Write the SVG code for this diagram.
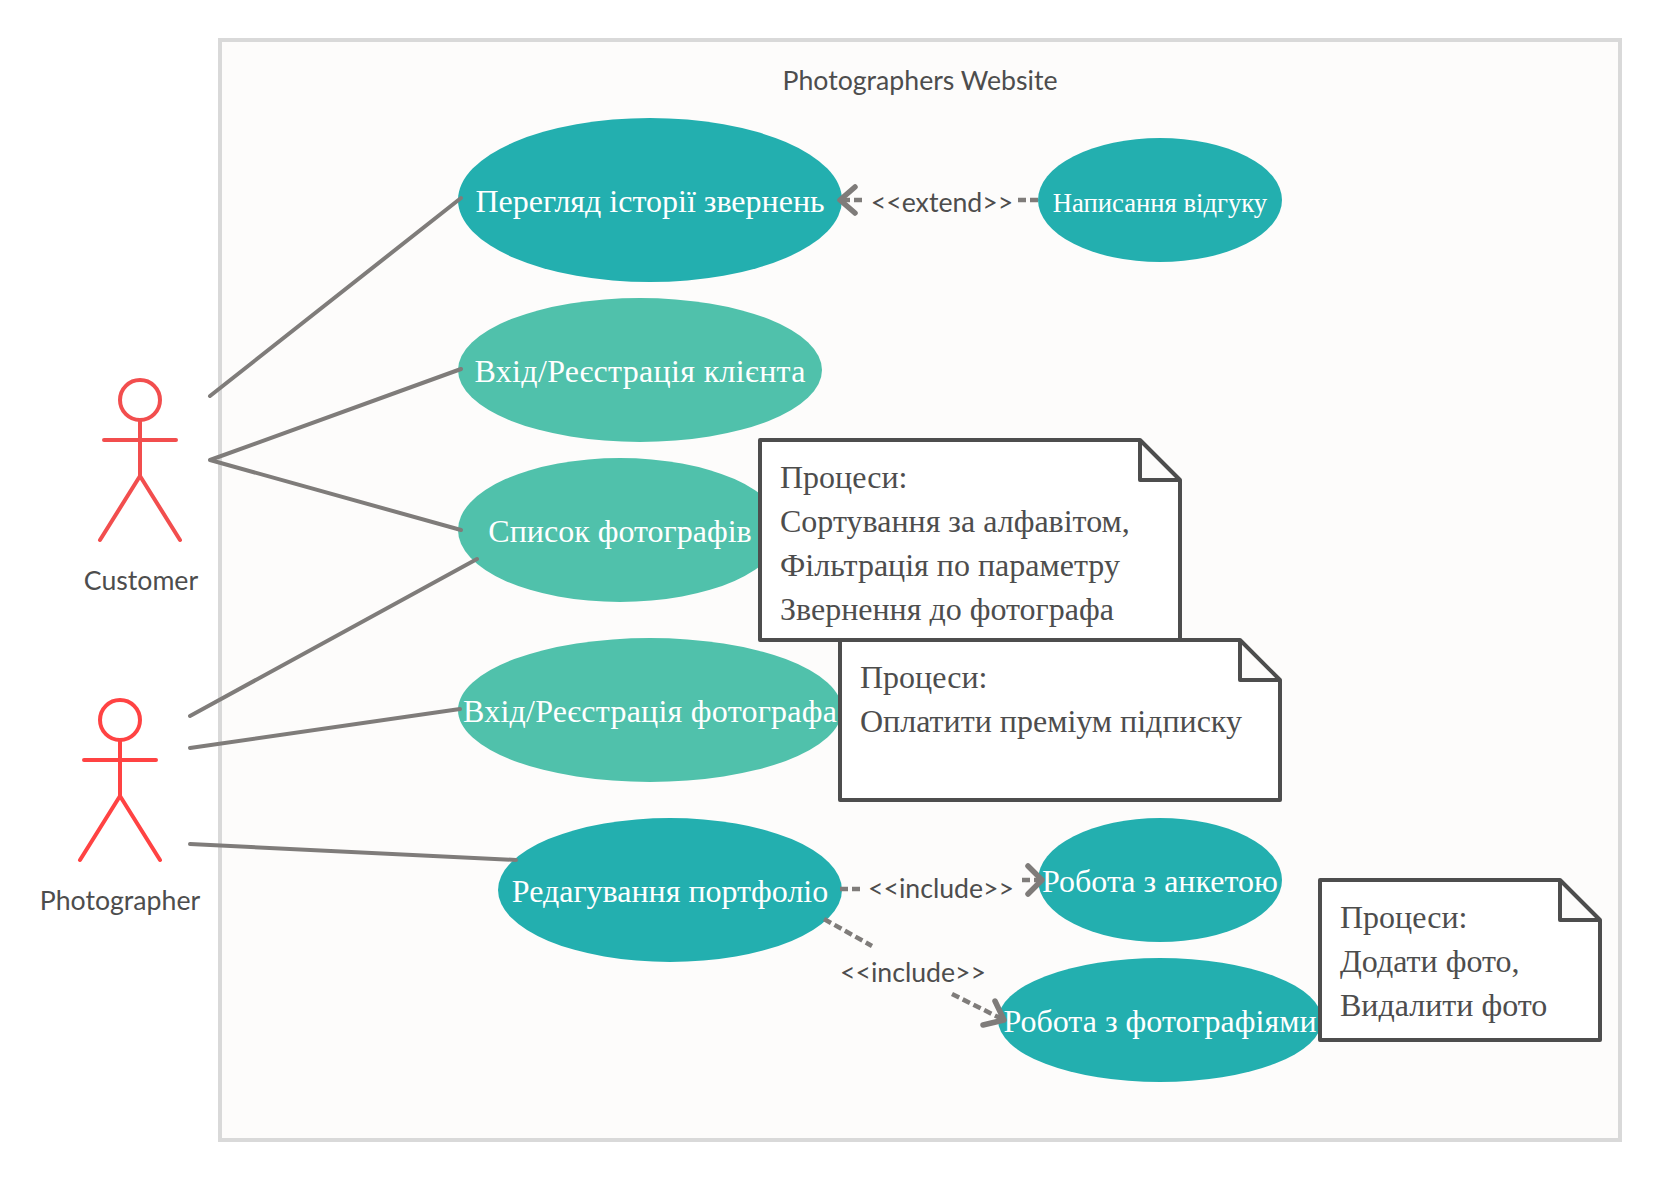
<svg xmlns="http://www.w3.org/2000/svg" width="1660" height="1180" viewBox="0 0 1660 1180">
<style>
text{font-family:"Liberation Serif","Times New Roman",serif}
.uc{fill:#fff;font-size:32px;text-anchor:middle}
.dark{fill:#23afaf}
.light{fill:#50c1ab}
.note path{fill:#fff;stroke:#4d4d4d;stroke-width:4;stroke-linejoin:round;stroke-linecap:round}
.note text{fill:#4d4d4d;font-size:32px}
.lb{font-family:Lato,"Open Sans",sans-serif;fill:#4d4d4d;font-size:26.67px;text-anchor:middle}
.actor *{fill:none;stroke-width:4;stroke-linecap:round;stroke-linejoin:round}
.assoc{stroke:#7f7c7a;stroke-width:4;fill:none;stroke-linecap:round}
.dash{stroke:#7f7c7a;stroke-width:4.5;fill:none;stroke-dasharray:8 4}
.head{stroke:#7f7c7a;stroke-width:5.5;fill:none;stroke-linecap:round;stroke-linejoin:round}
</style>
<g id="frame">
<rect x="220" y="40" width="1400" height="1100" fill="#fdfcfb" stroke="#d9d9d9" stroke-width="4"/>
<text class="lb" x="920" y="90">Photographers Website</text>
</g>
<g id="uc-history"><ellipse class="dark" cx="650" cy="200" rx="192" ry="82"/><text class="uc" x="650" y="212">Перегляд історії звернень</text></g>
<g id="uc-review"><ellipse class="dark" cx="1160" cy="200" rx="122" ry="62"/><text class="uc" x="1160" y="212" style="font-size:26.67px">Написання відгуку</text></g>
<g id="uc-client-login"><ellipse class="light" cx="640" cy="370" rx="182" ry="72"/><text class="uc" x="640" y="382" textLength="331">Вхід/Реєстрація клієнта</text></g>
<g id="uc-list"><ellipse class="light" cx="620" cy="530" rx="162" ry="72"/><text class="uc" x="620" y="542">Список фотографів</text></g>
<g id="uc-photo-login"><ellipse class="light" cx="650" cy="710" rx="192" ry="72"/><text class="uc" x="650" y="722" textLength="374">Вхід/Реєстрація фотографа</text></g>
<g id="uc-portfolio"><ellipse class="dark" cx="670" cy="890" rx="172" ry="72"/><text class="uc" x="670" y="902">Редагування портфоліо</text></g>
<g id="uc-form"><ellipse class="dark" cx="1160" cy="880" rx="122" ry="62"/><text class="uc" x="1160" y="892">Робота з анкетою</text></g>
<g id="uc-photos"><ellipse class="dark" cx="1160" cy="1020" rx="162" ry="62"/><text class="uc" x="1160" y="1032">Робота з фотографіями</text></g>
<g id="connectors">
<path class="assoc" d="M210 396L461 198M210 460L461 369M210 460L461 530M190 716L477 559M190 748L460 709M190 844L516 860"/>
<path class="dash" d="M1038 200H1018M862 200H842M840 889H860M1022 880H1040M824 919L872 946M952 994L1004 1020"/>
<path class="head" d="M855 187L840 200L855 213M1028 866L1042 880L1028 894M995 1001L1004 1020L983 1025"/>
<text class="lb" x="942" y="212">&lt;&lt;extend&gt;&gt;</text>
<text class="lb" x="941" y="898">&lt;&lt;include&gt;&gt;</text>
<text class="lb" x="913" y="982">&lt;&lt;include&gt;&gt;</text>
</g>
<g id="note-list" class="note"><path d="M760 440H1140L1180 480V640H760ZM1140 440V480H1180"/><text x="780" y="488">Процеси:</text><text x="780" y="532">Сортування за алфавітом,</text><text x="780" y="576">Фільтрація по параметру</text><text x="780" y="620">Звернення до фотографа</text></g>
<g id="note-premium" class="note"><path d="M840 640H1240L1280 680V800H840ZM1240 640V680H1280"/><text x="860" y="688">Процеси:</text><text x="860" y="732">Оплатити преміум підписку</text></g>
<g id="note-photos" class="note"><path d="M1320 880H1560L1600 920V1040H1320ZM1560 880V920H1600"/><text x="1340" y="928">Процеси:</text><text x="1340" y="972">Додати фото,</text><text x="1340" y="1016">Видалити фото</text></g>
<g id="actor-customer" class="actor"><g stroke="#f24e4e"><circle cx="140" cy="400" r="20"/><path d="M140 420V476M104 440H176M100 540L140 476L180 540"/></g><text class="lb" x="141" y="590" style="stroke:none;fill:#4d4d4d">Customer</text></g>
<g id="actor-photographer" class="actor"><g stroke="#ff4343"><circle cx="120" cy="720" r="20"/><path d="M120 740V796M84 760H156M80 860L120 796L160 860"/></g><text class="lb" x="120" y="910" style="stroke:none;fill:#4d4d4d">Photographer</text></g>
</svg>
